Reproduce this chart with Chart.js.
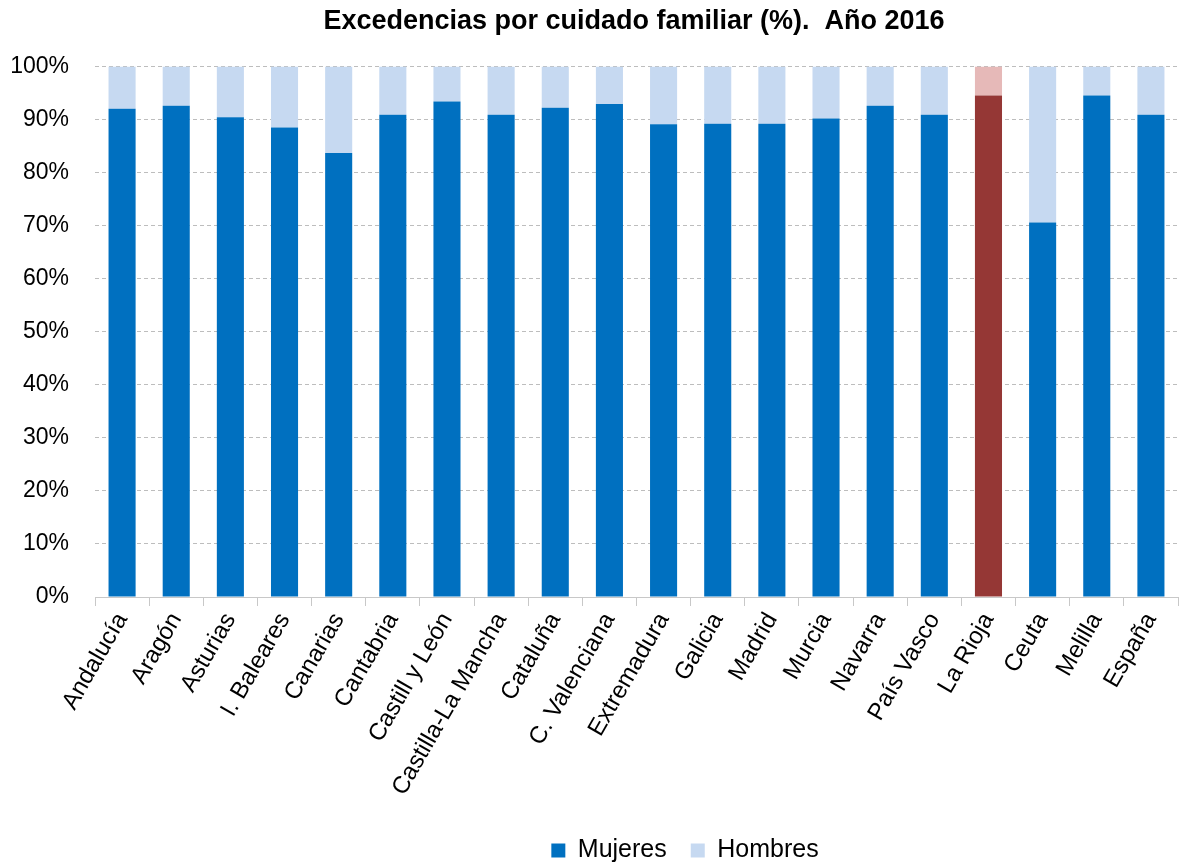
<!DOCTYPE html>
<html>
<head>
<meta charset="utf-8">
<script src="https://cdn.jsdelivr.net/npm/chart.js@4/dist/chart.umd.min.js"></script>
<style>
  html, body { margin: 0; padding: 0; background: #ffffff; }
  #wrap { width: 1192px; height: 863px; }
</style>
</head>
<body>
<div id="wrap"><canvas id="c" width="1192" height="863"></canvas></div>
<script>
const categories = ['Andalucía','Aragón','Asturias','I. Baleares','Canarias','Cantabria','Castill y León','Castilla-La Mancha','Cataluña','C. Valenciana','Extremadura','Galicia','Madrid','Murcia','Navarra','País Vasco','La Rioja','Ceuta','Melilla','España'];
const mujeres = [92.0, 92.6, 90.4, 88.5, 83.7, 90.9, 93.4, 90.9, 92.2, 92.9, 89.1, 89.2, 89.2, 90.2, 92.6, 90.9, 94.5, 70.6, 94.5, 90.9];
const hombres = [8.0, 7.4, 9.6, 11.5, 16.3, 9.1, 6.6, 9.1, 7.8, 7.1, 10.9, 10.8, 10.8, 9.8, 7.4, 9.1, 5.5, 29.4, 5.5, 9.1];
const yTicks = [0, 10, 20, 30, 40, 50, 60, 70, 80, 90, 100];
const highlighted = 'La Rioja';

const FONT = "'Liberation Sans', Arial, Helvetica, sans-serif";
const colMuj = '#0070C0', colHom = '#C6D9F1';
const colMujHi = '#953735', colHomHi = '#E6B9B8';

const shiftPlugin = {
  id: 'shiftBoxes',
  afterLayout(chart) {
    if (chart.titleBlock) { chart.titleBlock.left += 45; chart.titleBlock.right += 45; }
    if (chart.legend) {
      chart.legend.left += 96; chart.legend.right += 96;
      chart.legend.top += 10; chart.legend.bottom += 10;
    }
    if (chart.scales.x) { chart.scales.x.bottom += 45; }
  }
};

new Chart(document.getElementById('c'), {
  type: 'bar',
  data: {
    labels: categories,
    datasets: [
      {
        label: 'Mujeres',
        data: mujeres,
        backgroundColor: categories.map(c => c === highlighted ? colMujHi : colMuj),
        borderWidth: 0
      },
      {
        label: 'Hombres',
        data: hombres,
        backgroundColor: categories.map(c => c === highlighted ? colHomHi : colHom),
        borderWidth: 0
      }
    ]
  },
  options: {
    responsive: false,
    animation: false,
    devicePixelRatio: 1,
    barPercentage: 0.5,
    categoryPercentage: 1.0,
    layout: { padding: { left: 0, right: 14, top: 0, bottom: 0 } },
    plugins: {
      title: {
        display: true,
        text: 'Excedencias por cuidado familiar (%).  Año 2016',
        color: '#000',
        font: { family: FONT, size: 27, weight: 'bold' },
        padding: { top: 5, bottom: 29 }
      },
      legend: {
        position: 'bottom',
        labels: {
          color: '#000',
          font: { family: FONT, size: 25 },
          boxWidth: 14,
          boxHeight: 14,
          padding: 24,
          generateLabels(chart) {
            return chart.data.datasets.map((ds, i) => ({
              text: ds.label,
              fillStyle: i === 0 ? colMuj : colHom,
              strokeStyle: i === 0 ? colMuj : colHom,
              lineWidth: 0,
              hidden: false,
              datasetIndex: i,
              fontColor: '#000'
            }));
          }
        }
      },
      tooltip: { enabled: false }
    },
    scales: {
      x: {
        stacked: true,
        offset: true,
        afterFit(scale) { scale.height = 207; },
        grid: {
          offset: true,
          drawOnChartArea: false,
          drawTicks: true,
          tickLength: 9,
          color: '#c8c8c8'
        },
        border: { display: true, color: '#c8c8c8', width: 1 },
        ticks: {
          color: '#000',
          font: { family: FONT, size: 24 },
          minRotation: 60,
          maxRotation: 60,
          autoSkip: false,
          padding: 2
        }
      },
      y: {
        stacked: true,
        min: 0,
        max: 100,
        afterBuildTicks(scale) { scale.ticks = yTicks.map(v => ({ value: v })); },
        afterFit(scale) { scale.width = 95; },
        grid: {
          color: '#bdbdbd',
          lineWidth: 1,
          drawTicks: false
        },
        border: { display: false, dash: [4, 3] },
        ticks: {
          color: '#000',
          font: { family: FONT, size: 23 },
          padding: 26,
          callback: v => v + '%'
        }
      }
    }
  },
  plugins: [shiftPlugin]
});
</script>
</body>
</html>
